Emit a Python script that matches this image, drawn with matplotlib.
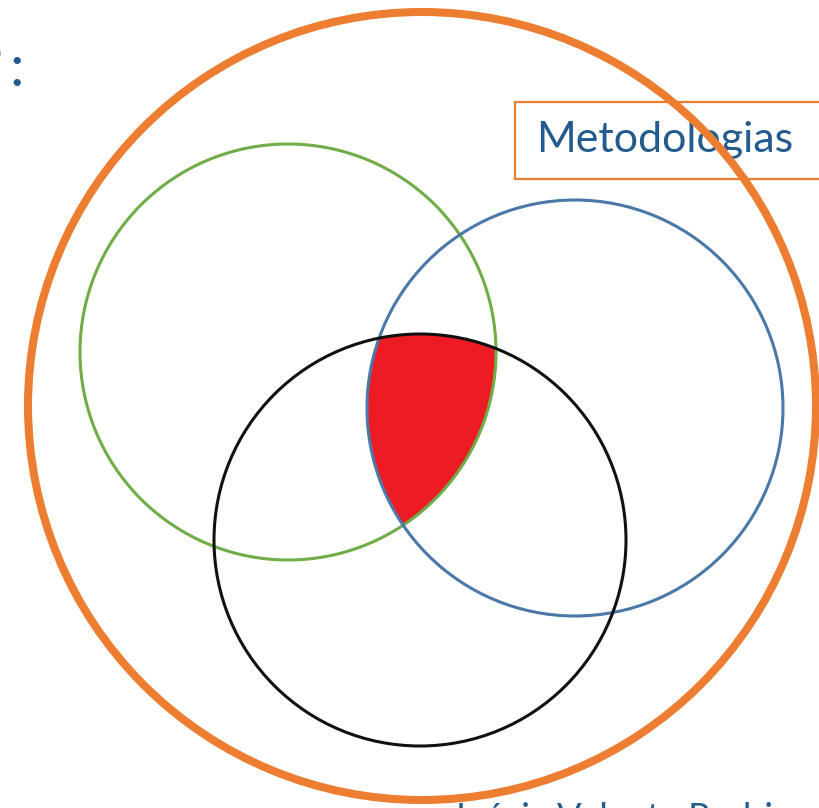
import numpy as np
import matplotlib
matplotlib.use('Agg')
import matplotlib.pyplot as plt
from matplotlib.patches import Circle, Rectangle

# circles (pixel coordinates of the picture)
names = ['verde', 'azul', 'preto']
cx = [288, 575, 420]
cy = [352, 408, 540]
radius = [208, 208, 206]
colors = ['#70AD47', '#4A78A8', '#111111']

outer_cx, outer_cy, outer_r = 422, 406, 394
box_label = 'Metodologias'
author_first = 'Inácia '
author_rest = 'Valente Rodrigues'

W, H = 819, 808
fig = plt.figure(figsize=(W / 100, H / 100), dpi=100)
ax = fig.add_axes([0, 0, 1, 1])
ax.set_xlim(0, W)
ax.set_ylim(H, 0)
ax.set_aspect('equal')
ax.axis('off')

# red area = intersection of the three circles
pts = []
for i in range(3):
    t = np.linspace(0, 2 * np.pi, 2000)
    x = cx[i] + radius[i] * np.cos(t)
    y = cy[i] + radius[i] * np.sin(t)
    ok = np.ones_like(x, dtype=bool)
    for j in range(3):
        if j != i:
            ok &= (x - cx[j]) ** 2 + (y - cy[j]) ** 2 <= radius[j] ** 2 + 1e-6
    pts.append(np.column_stack([x[ok], y[ok]]))
pts = np.vstack(pts)
c = pts.mean(axis=0)
order = np.argsort(np.arctan2(pts[:, 1] - c[1], pts[:, 0] - c[0]))
ax.fill(pts[order, 0], pts[order, 1], color='#ED1C24', lw=0, zorder=1)

for i in range(3):
    ax.add_patch(Circle((cx[i], cy[i]), radius[i], fill=False,
                        ec=colors[i], lw=2.2, zorder=2))

ax.add_patch(Rectangle((515, 102), 320, 77, fill=True, fc='white',
                       ec='#ED7D31', lw=1.6, zorder=3))
ax.text(536, 140, box_label, fontsize=31, family='Lato', color='#245B8F',
        va='center', ha='left', zorder=4)

ax.add_patch(Circle((outer_cx, outer_cy), outer_r, fill=False,
                    ec='#ED7D31', lw=5.8, zorder=5))

# cut-off title at the top left
ax.text(-10, 86, '?', fontsize=42, family='Lato', color='#245B8F',
        ha='center', va='baseline', zorder=6)
ax.text(17, 86, ':', fontsize=42, family='Lato', color='#245B8F',
        ha='center', va='baseline', zorder=6)

# cut-off author line at the bottom, "Valente" starting near x=557
r = fig.canvas.get_renderer()
probe = ax.text(0, 0, author_first, fontsize=26, family='Lato')
pw = probe.get_window_extent(renderer=r).width
probe.remove()
ax.text(557 - pw, 829, author_first + author_rest, fontsize=26, family='Lato',
        color='#245B8F', ha='left', va='baseline', zorder=6)

fig.savefig('out.png', dpi=100)
